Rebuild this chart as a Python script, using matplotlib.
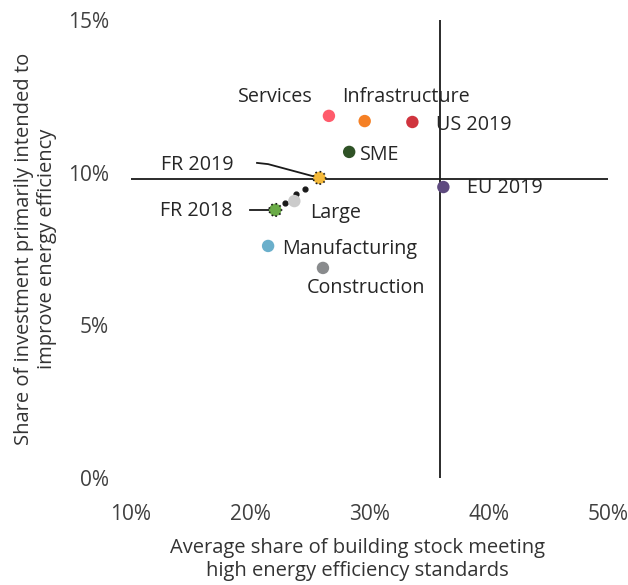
import matplotlib.pyplot as plt
from matplotlib.ticker import PercentFormatter

plt.rcParams['font.family'] = ['Open Sans', 'DejaVu Sans']

names = ['Services', 'Infrastructure', 'US 2019', 'SME', 'FR 2019', 'EU 2019',
         'Large', 'FR 2018', 'Manufacturing', 'Construction']
x_share = [26.6, 29.6, 33.6, 28.3, 25.8, 36.2, 23.7, 22.1, 21.5, 26.1]
y_share = [11.86, 11.69, 11.66, 10.68, 9.83, 9.53, 9.07, 8.78, 7.6, 6.88]
colors = ['#ff5b6b', '#f58025', '#d0343e', '#2f5226', '#f4b93a', '#5e4a7f',
          '#cbcbcb', '#6aab47', '#6aafcb', '#898b8d']

# dotted path between FR 2018 and FR 2019
path_x = [22.9, 23.8, 24.6]
path_y = [9.00, 9.30, 9.48]

eu_x = 35.9
fr_y = 9.8

fig = plt.figure(figsize=(6.28, 5.85), dpi=100)
ax = fig.add_axes([0.2086, 0.1829, 0.7594, 0.7829])

ax.axvline(eu_x, color='#1a1a1a', lw=1.3, zorder=1)
ax.axhline(fr_y, color='#1a1a1a', lw=1.3, zorder=1)

ax.scatter(path_x, path_y, s=12, color='#1a1a1a', zorder=2)
for n, xv, yv, c in zip(names, x_share, y_share, colors):
    if n.startswith('FR'):
        ax.scatter(xv, yv, s=80, color=c, edgecolor='#1a1a1a', linestyle=':',
                   linewidth=1.2, zorder=3)
    else:
        ax.scatter(xv, yv, s=80, color=c, edgecolor='none', zorder=3)

fs = 14.2
txt = '#262626'
# label offsets in points (dx, dy, ha)
offsets = {
    'Services': (-11.5, 13.5, 'right'),
    'Infrastructure': (-16, 17, 'left'),
    'US 2019': (17, -2, 'left'),
    'SME': (8, -2, 'left'),
    'EU 2019': (17, -1, 'left'),
    'Large': (11.5, -8.6, 'left'),
    'Manufacturing': (10, -2, 'left'),
    'Construction': (-11.5, -14.4, 'left'),
}
for n, xv, yv in zip(names, x_share, y_share):
    if n in offsets:
        dx, dy, ha = offsets[n]
        ax.annotate(n, (xv, yv), xytext=(dx, dy), textcoords='offset points',
                    ha=ha, va='center', fontsize=fs, color=txt)

# FR labels with leader lines
ax.annotate('FR 2019', (x_share[4], y_share[4]), xytext=(-114, 9),
            textcoords='offset points', ha='left', va='center', fontsize=fs,
            color=txt)
ax.plot([20.57, 21.5, x_share[4] - 0.3], [10.32, 10.28, y_share[4] + 0.03],
        color='#1a1a1a', lw=1.3, zorder=2)
ax.annotate('FR 2018', (x_share[7], y_share[7]), xytext=(-83, -1),
            textcoords='offset points', ha='left', va='center', fontsize=fs,
            color=txt)
ax.plot([20.0, x_share[7] - 0.3], [8.78, 8.78], color='#1a1a1a', lw=1.3, zorder=2)

ax.set_xlim(10, 50)
ax.set_ylim(0, 15)
ax.set_xticks([10, 20, 30, 40, 50])
ax.set_yticks([0, 5, 10, 15])
ax.xaxis.set_major_formatter(PercentFormatter(decimals=0))
ax.yaxis.set_major_formatter(PercentFormatter(decimals=0))
for s in ax.spines.values():
    s.set_visible(False)
ax.tick_params(length=0, labelsize=15, colors='#404040')
ax.tick_params(axis='y', pad=16)
ax.tick_params(axis='x', pad=19)

ax.set_xlabel('Average share of building stock meeting\nhigh energy efficiency standards',
              fontsize=14.5, color='#333333', linespacing=1.2)
ax.set_ylabel('Share of investment primarily intended to\nimprove energy efficiency',
              fontsize=14.5, color='#333333', labelpad=8, linespacing=1.15)
ax.xaxis.set_label_coords(0.475, -0.132)

fig.savefig('out.png', dpi=100)
